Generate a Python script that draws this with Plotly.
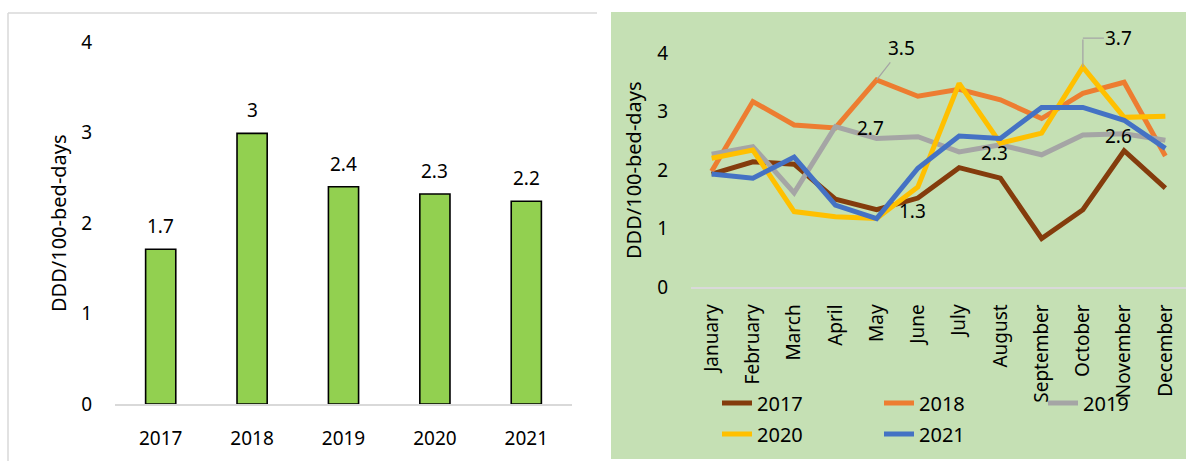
import plotly.graph_objects as go

W, H = 1186, 461
FONT = "Noto Sans"

# ---- data ----
years = [2017, 2018, 2019, 2020, 2021]
year_labels = ["2017", "2018", "2019", "2020", "2021"]
annual_values = [1.71, 2.99, 2.40, 2.32, 2.24]
annual_labels = ["1.7", "3", "2.4", "2.3", "2.2"]

months = ["January", "February", "March", "April", "May", "June", "July",
          "August", "September", "October", "November", "December"]
m2017 = [1.93, 2.14, 2.10, 1.50, 1.32, 1.52, 2.04, 1.86, 0.83, 1.32, 2.33, 1.69]
m2018 = [1.98, 3.17, 2.77, 2.72, 3.54, 3.26, 3.38, 3.20, 2.88, 3.31, 3.50, 2.24]
m2019 = [2.27, 2.40, 1.61, 2.74, 2.54, 2.57, 2.31, 2.43, 2.26, 2.60, 2.62, 2.51]
m2020 = [2.20, 2.34, 1.29, 1.20, 1.17, 1.71, 3.48, 2.46, 2.63, 3.76, 2.90, 2.92]
m2021 = [1.93, 1.86, 2.22, 1.40, 1.17, 2.03, 2.58, 2.54, 3.07, 3.07, 2.85, 2.37]

series_names = ["2017", "2018", "2019", "2020", "2021"]
series_values = [m2017, m2018, m2019, m2020, m2021]
series_colors = ["#843C0C", "#ED7D31", "#A5A5A5", "#FFC000", "#4472C4"]
series_legend = ["legend", "legend", "legend3", "legend2", "legend2"]

y_ticks = [0, 1, 2, 3, 4]
y_title = "DDD/100-bed-days"


def px_x(p):
    return p / W


def px_y(p):
    return (H - p) / H


fig = go.Figure()

# ---- left: annual bars ----
fig.add_trace(go.Bar(
    x=years, y=annual_values, xaxis="x", yaxis="y",
    marker=dict(color="#92D050", line=dict(color="#000000", width=1.6)),
    width=0.33, showlegend=False,
))

annotations = []
for yr, v, lab in zip(years, annual_values, annual_labels):
    annotations.append(dict(
        x=yr, y=v, xref="x", yref="y", text=lab, showarrow=False,
        yanchor="middle", yshift=23, font=dict(family=FONT, size=19, color="#000")))

# ---- right: monthly lines ----
for name, vals, col, lg in zip(series_names, series_values, series_colors, series_legend):
    fig.add_trace(go.Scatter(
        x=months, y=vals, xaxis="x2", yaxis="y2", mode="lines", name=name,
        line=dict(color=col, width=5), legend=lg,
    ))

# point data labels (placed to the right of the point)
point_labels = [("April", m2019[3], "2.7"), ("May", m2017[4], "1.3"),
                ("July", m2019[6], "2.3"), ("October", m2019[9], "2.6")]
for mo, v, lab in point_labels:
    annotations.append(dict(
        x=mo, y=v, xref="x2", yref="y2", text=lab, showarrow=False,
        xanchor="left", yanchor="middle", xshift=20, yshift=-1,
        font=dict(family=FONT, size=19, color="#000")))

# callout 3.5 (2018 May)
annotations.append(dict(
    x="May", y=m2018[4], xref="x2", yref="y2", text="3.5", showarrow=True,
    arrowhead=0, arrowwidth=1.3, arrowcolor="#A5A5A5", ax=25, ay=-32,
    font=dict(family=FONT, size=19, color="#000")))
# callout 3.7 (2020 October) - elbow leader
annotations.append(dict(
    x="October", y=m2020[9], xref="x2", yref="y2", text="", showarrow=True,
    arrowhead=0, arrowwidth=1.3, arrowcolor="#A5A5A5", ax=0, ay=-29,
    font=dict(family=FONT, size=2)))
annotations.append(dict(
    x="October", y=m2020[9], xref="x2", yref="y2", yshift=29, text="3.7", showarrow=True,
    arrowhead=0, arrowwidth=1.3, arrowcolor="#A5A5A5", ax=36, ay=0, standoff=0,
    font=dict(family=FONT, size=19, color="#000")))

# axis titles
annotations.append(dict(
    x=px_x(59), y=px_y(223), xref="paper", yref="paper", text=y_title, textangle=-90,
    xanchor="center", yanchor="middle",
    showarrow=False, font=dict(family=FONT, size=20, color="#000")))
annotations.append(dict(
    x=px_x(633), y=px_y(170), xref="paper", yref="paper", text=y_title, textangle=-90,
    xanchor="center", yanchor="middle",
    showarrow=False, font=dict(family=FONT, size=20, color="#000")))

shapes = [
    # left panel frame
    dict(type="line", xref="paper", yref="paper", x0=px_x(8), x1=px_x(597), y0=px_y(13), y1=px_y(13),
         line=dict(color="#D9D9D9", width=1.5), layer="below"),
    dict(type="line", xref="paper", yref="paper", x0=px_x(8), x1=px_x(8), y0=px_y(13), y1=px_y(461),
         line=dict(color="#D9D9D9", width=1.5), layer="below"),
    # right panel background
    dict(type="rect", xref="paper", yref="paper", x0=px_x(611), x1=1, y0=px_y(459), y1=px_y(12),
         fillcolor="#C5E0B4", line=dict(width=0), layer="below"),
]

tickfont = dict(family=FONT, size=19, color="#000")
legfont = dict(family=FONT, size=20, color="#000")
leg_common = dict(orientation="h", xanchor="left", yanchor="middle",
                  bgcolor="rgba(0,0,0,0)", font=legfont, traceorder="normal")

fig.update_layout(
    width=W, height=H, autosize=False, margin=dict(l=0, r=0, t=0, b=0),
    paper_bgcolor="white", plot_bgcolor="rgba(0,0,0,0)",
    font=dict(family=FONT, color="#000"),
    xaxis=dict(domain=[px_x(115), px_x(572)], type="linear", range=[2016.5, 2021.5],
               tickvals=years, ticktext=year_labels, showgrid=False, zeroline=False,
               showline=True, linecolor="#D9D9D9", linewidth=1.5, ticks="",
               tickfont=tickfont, ticklabelstandoff=16, automargin=False, anchor="y"),
    yaxis=dict(domain=[px_y(404), px_y(42)], range=[0, 4], tickvals=y_ticks, showgrid=False,
               zeroline=False, showline=False, ticks="", tickfont=tickfont,
               ticklabelstandoff=22, automargin=False, anchor="x"),
    xaxis2=dict(domain=[px_x(691), 1.0], type="category", range=[-0.5, 11.5], showgrid=False,
                showline=True, linecolor="#D9D9D9", linewidth=1.5, ticks="",
                tickangle=-90, tickfont=tickfont, ticklabelstandoff=8,
                automargin=False, anchor="y2"),
    yaxis2=dict(domain=[px_y(287), px_y(53)], range=[0, 4], tickvals=y_ticks, showgrid=False,
                zeroline=False, showline=False, ticks="", tickfont=tickfont,
                ticklabelstandoff=22, automargin=False, anchor="x2"),
    legend=dict(x=px_x(717), y=px_y(403), entrywidth=117, entrywidthmode="pixels", **leg_common),
    legend2=dict(x=px_x(717), y=px_y(434), entrywidth=117, entrywidthmode="pixels", **leg_common),
    legend3=dict(x=px_x(1043), y=px_y(403), **leg_common),
    annotations=annotations, shapes=shapes,
)

post = """
document.documentElement.style.margin='0';
document.body.style.margin='0';
document.body.style.overflow='hidden';
document.documentElement.style.overflow='hidden';
"""
fig.write_html("out.html", config={"responsive": False}, post_script=post)
